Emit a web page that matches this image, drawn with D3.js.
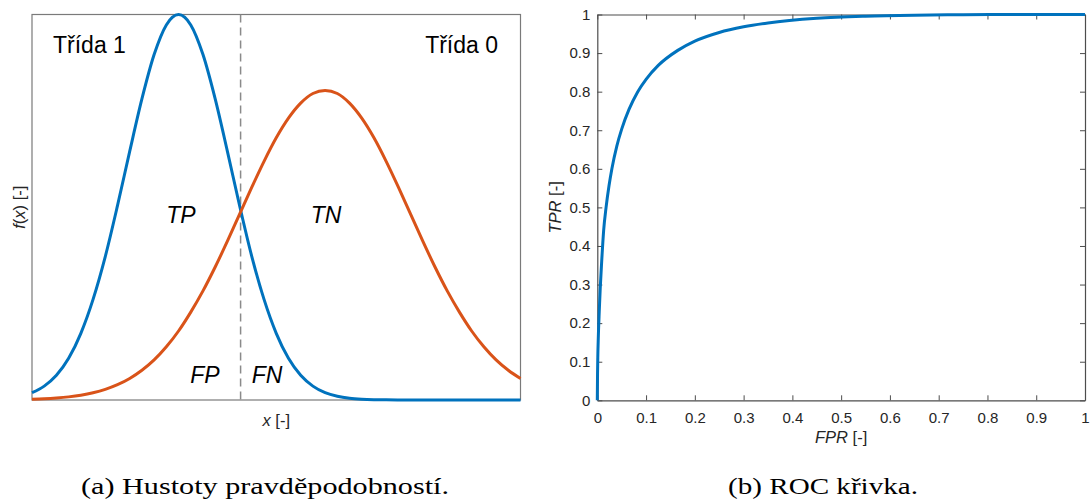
<!DOCTYPE html>
<html>
<head>
<meta charset="utf-8">
<script src="https://cdn.jsdelivr.net/npm/d3@7"></script>
<style>
  html, body { margin: 0; padding: 0; background: #fff; }
  svg { display: block; }
  text { font-family: "Liberation Sans", Arial, Helvetica, sans-serif; }
</style>
</head>
<body>
<svg id="chart" width="1090" height="503"></svg>
<script>
// ---------- Data: left panel (probability densities) ----------
const densX = [0, 0.25, 0.5, 0.75, 1, 1.25, 1.5, 1.75, 2, 2.25, 2.5, 2.75, 3, 3.25, 3.5, 3.75, 4, 4.25, 4.5, 4.75, 5, 5.25, 5.5, 5.75, 6, 6.25, 6.5, 6.75, 7, 7.25, 7.5, 7.75, 8, 8.25, 8.5, 8.75, 9, 9.25, 9.5, 9.75, 10];
const class1 = [0.019, 0.036, 0.064, 0.108, 0.173, 0.261, 0.372, 0.504, 0.645, 0.781, 0.896, 0.973, 1.000, 0.973, 0.896, 0.781, 0.645, 0.504, 0.372, 0.261, 0.173, 0.108, 0.064, 0.036, 0.019, 0.0097, 0.0046, 0.0021, 0.0009, 0.0004, 0.0001, 0, 0, 0, 0, 0, 0, 0, 0, 0, 0];
const class0 = [0.0020, 0.0032, 0.0052, 0.0081, 0.0124, 0.0187, 0.0275, 0.0396, 0.0558, 0.0771, 0.104, 0.138, 0.179, 0.228, 0.283, 0.345, 0.412, 0.482, 0.552, 0.619, 0.680, 0.731, 0.770, 0.795, 0.803, 0.795, 0.770, 0.731, 0.680, 0.619, 0.552, 0.482, 0.412, 0.345, 0.283, 0.228, 0.179, 0.138, 0.104, 0.0771, 0.0558];
const threshold = 4.27;
const regionLabels = ["TP", "TN", "FP", "FN"];
const classLabels = ["Třída 1", "Třída 0"];

// ---------- Data: right panel (ROC curve) ----------
const fpr = [0, 0.0005, 0.001, 0.002, 0.004, 0.006, 0.009, 0.013, 0.018, 0.024, 0.03, 0.04, 0.05, 0.065, 0.083, 0.1, 0.125, 0.165, 0.2, 0.25, 0.3, 0.35, 0.45, 0.55, 0.65, 0.75, 0.85, 1];
const tpr = [0, 0.07, 0.11, 0.16, 0.23, 0.29, 0.36, 0.44, 0.50, 0.556, 0.601, 0.659, 0.703, 0.754, 0.80, 0.832, 0.868, 0.907, 0.931, 0.9535, 0.968, 0.978, 0.990, 0.9956, 0.9983, 0.9995, 0.9999, 1];
const rocTicks = [0, 0.1, 0.2, 0.3, 0.4, 0.5, 0.6, 0.7, 0.8, 0.9, 1];

const svg = d3.select("#chart");
const BLUE = "#0072BD", ORANGE = "#D95319";

// ================= LEFT PANEL =================
const L = { left: 32, right: 520.5, top: 14.5, bottom: 400 };
const xL = d3.scaleLinear().domain([0, 10]).range([L.left, L.right]);
const yL = d3.scaleLinear().domain([0, 1]).range([L.bottom, L.top]);

const gL = svg.append("g");
gL.append("rect")
  .attr("x", L.left).attr("y", L.top)
  .attr("width", L.right - L.left).attr("height", L.bottom - L.top)
  .attr("fill", "none").attr("stroke", "#7a7a7a").attr("stroke-width", 1.2);

gL.append("line")
  .attr("x1", xL(threshold)).attr("x2", xL(threshold))
  .attr("y1", yL(1)).attr("y2", yL(0))
  .attr("stroke", "#8a8a8a").attr("stroke-width", 1.5)
  .attr("stroke-dasharray", "8,5");

const lineL = (vals) => d3.line()
  .x((d, i) => xL(densX[i]))
  .y(d => yL(d))
  .curve(d3.curveMonotoneX)(vals);

gL.append("path").attr("d", lineL(class1))
  .attr("fill", "none").attr("stroke", BLUE).attr("stroke-width", 3);
gL.append("path").attr("d", lineL(class0))
  .attr("fill", "none").attr("stroke", ORANGE).attr("stroke-width", 3);

gL.append("text").text(classLabels[0])
  .attr("x", 53).attr("y", 53).attr("font-size", 23).attr("fill", "#000");
gL.append("text").text(classLabels[1])
  .attr("x", 498).attr("y", 53).attr("text-anchor", "end").attr("font-size", 23).attr("fill", "#000");

const regPos = [[181, 223], [326, 223], [205, 383], [267, 383]];
regionLabels.forEach((t, i) => {
  gL.append("text").text(t)
    .attr("x", regPos[i][0]).attr("y", regPos[i][1])
    .attr("text-anchor", "middle")
    .attr("font-size", 23).attr("font-style", "italic").attr("fill", "#000");
});

const xlabL = gL.append("text").attr("x", (L.left + L.right) / 2).attr("y", 426)
  .attr("text-anchor", "middle").attr("font-size", 16.5).attr("fill", "#262626");
xlabL.append("tspan").attr("font-style", "italic").text("x");
xlabL.append("tspan").text(" [-]");

const ylabL = gL.append("text")
  .attr("transform", `translate(24.5,${(L.top + L.bottom) / 2}) rotate(-90)`)
  .attr("text-anchor", "middle").attr("font-size", 16.5).attr("fill", "#262626");
ylabL.append("tspan").attr("font-style", "italic").text("f");
ylabL.append("tspan").text("(");
ylabL.append("tspan").attr("font-style", "italic").text("x");
ylabL.append("tspan").text(") [-]");

svg.append("text").text("(a) Hustoty pravděpodobností.")
  .attr("x", 265).attr("y", 494).attr("text-anchor", "middle")
  .style("font-family", "'Liberation Serif', 'Times New Roman', serif")
  .attr("font-size", 24).attr("fill", "#000")
  .attr("textLength", 368).attr("lengthAdjust", "spacingAndGlyphs");

// ================= RIGHT PANEL (ROC) =================
const R = { left: 597.3, right: 1085, top: 14.5, bottom: 400.3 };
const xR = d3.scaleLinear().domain([0, 1]).range([R.left, R.right]);
const yR = d3.scaleLinear().domain([0, 1]).range([R.bottom, R.top]);
const gR = svg.append("g");

const fmt = d => (d === 0 || d === 1) ? String(d) : d.toFixed(1);
const axisColor = "#4d4d4d";

const ax = gR.append("g").attr("transform", `translate(0,${R.bottom})`)
  .call(d3.axisBottom(xR).tickValues(rocTicks).tickFormat(fmt).tickSizeInner(-5).tickSizeOuter(0).tickPadding(12.5));
const axT = gR.append("g").attr("transform", `translate(0,${R.top})`)
  .call(d3.axisTop(xR).tickValues(rocTicks).tickFormat("").tickSizeInner(-5).tickSizeOuter(0));
const ay = gR.append("g").attr("transform", `translate(${R.left},0)`)
  .call(d3.axisLeft(yR).tickValues(rocTicks).tickFormat(fmt).tickSizeInner(-5).tickSizeOuter(0).tickPadding(7));
const ayR = gR.append("g").attr("transform", `translate(${R.right},0)`)
  .call(d3.axisRight(yR).tickValues(rocTicks).tickFormat("").tickSizeInner(-5).tickSizeOuter(0));

[ax, axT, ay, ayR].forEach(g => {
  g.select(".domain").attr("stroke", axisColor).attr("stroke-width", 1.2);
  g.selectAll(".tick line").attr("stroke", axisColor).attr("stroke-width", 1);
  g.selectAll(".tick text").attr("fill", "#262626").attr("font-size", 15)
    .style("font-family", "'Liberation Sans', Arial, sans-serif");
});

const rocLine = d3.line()
  .x((d, i) => xR(fpr[i]))
  .y(d => yR(d))
  .curve(d3.curveMonotoneX);
gR.append("path").attr("d", rocLine(tpr))
  .attr("fill", "none").attr("stroke", BLUE).attr("stroke-width", 3)
  .attr("stroke-linejoin", "round");

const xlabR = gR.append("text").attr("x", (R.left + R.right) / 2).attr("y", 443)
  .attr("text-anchor", "middle").attr("font-size", 16.5).attr("fill", "#262626");
xlabR.append("tspan").attr("font-style", "italic").text("FPR");
xlabR.append("tspan").text(" [-]");

const ylabR = gR.append("text")
  .attr("transform", `translate(561,${(R.top + R.bottom) / 2}) rotate(-90)`)
  .attr("text-anchor", "middle").attr("font-size", 16.5).attr("fill", "#262626");
ylabR.append("tspan").attr("font-style", "italic").text("TPR");
ylabR.append("tspan").text(" [-]");

svg.append("text").text("(b) ROC křivka.")
  .attr("x", 823).attr("y", 494).attr("text-anchor", "middle")
  .style("font-family", "'Liberation Serif', 'Times New Roman', serif")
  .attr("font-size", 24).attr("fill", "#000")
  .attr("textLength", 190).attr("lengthAdjust", "spacingAndGlyphs");
</script>
</body>
</html>
